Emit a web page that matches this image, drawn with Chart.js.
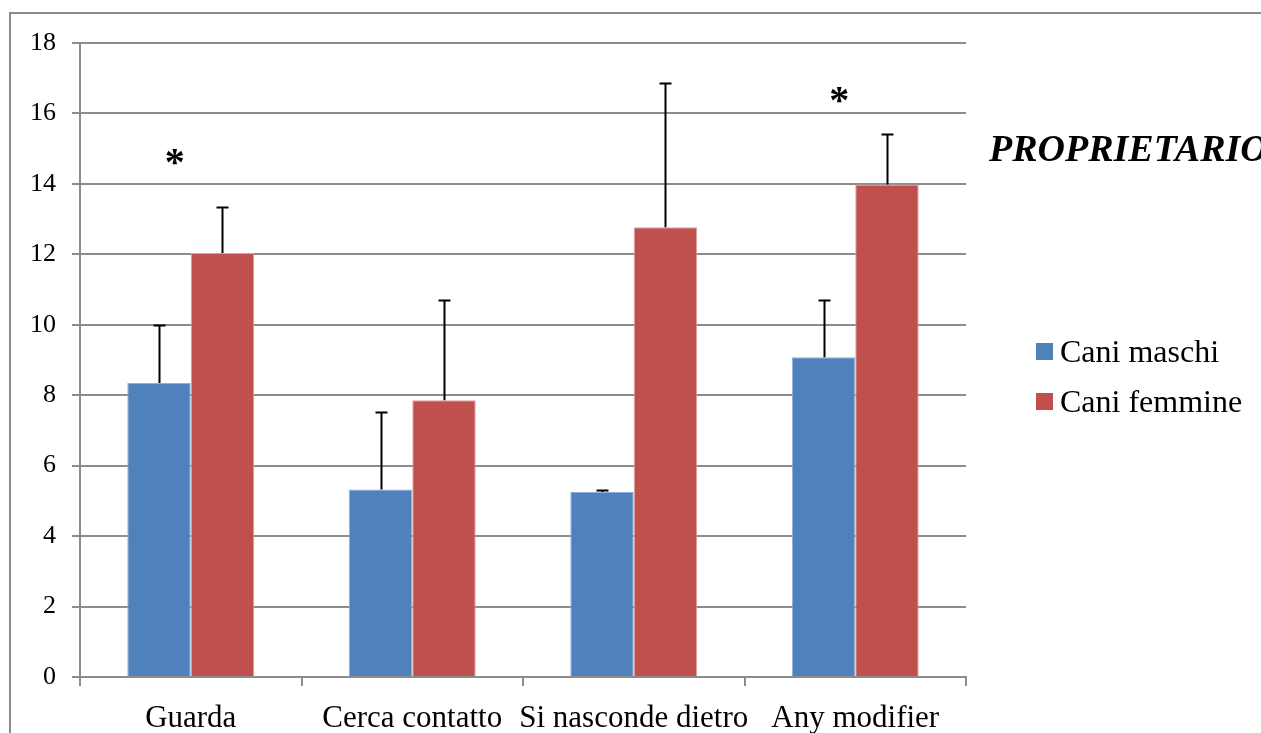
<!DOCTYPE html>
<html>
<head>
<meta charset="utf-8">
<script src="https://cdn.jsdelivr.net/npm/chart.js@4.4.1/dist/chart.umd.min.js"></script>
<style>
  html, body { margin: 0; padding: 0; background: #fff; overflow: hidden; }
  #wrap { position: absolute; left: 0; top: 0; width: 1261px; height: 733px; }
</style>
</head>
<body>
<div id="wrap"><canvas id="chart" width="1261" height="733"></canvas></div>
<script>
// categories and values
const categories = ['Guarda', 'Cerca contatto', 'Si nasconde dietro', 'Any modifier'];
const maschi = [8.35, 5.32, 5.25, 9.08];
const maschiErr = [1.63, 2.21, 0.07, 1.62];
const femmine = [12.04, 7.86, 12.77, 13.98];
const femmineErr = [1.30, 2.84, 4.10, 1.44];
const seriesNames = ['Cani maschi', 'Cani femmine'];
const seriesColors = ['#4F81BD', '#C0504D'];
// significance marks: label and the value they sit at
const stars = ['*', '', '', '*'];
const starValues = [14.85, null, null, 16.6];
const chartTitle = 'PROPRIETARIO';

const serif = "'Liberation Serif', 'Times New Roman', serif";
const gridGrey = '#8c8c8c';

// grey frame around the whole chart
const framePlugin = {
  id: 'frame',
  beforeDraw(chart) {
    const ctx = chart.ctx;
    ctx.save();
    ctx.strokeStyle = '#8a8a8a';
    ctx.lineWidth = 2;
    ctx.strokeRect(10, 13, 1400, 900);
    ctx.restore();
  }
};

// plus-only error bars, stars, title and legend
const extrasPlugin = {
  id: 'extras',
  afterDatasetsDraw(chart) {
    const ctx = chart.ctx;
    const y = chart.scales.y;
    const x = chart.scales.x;
    ctx.save();
    ctx.strokeStyle = '#000';
    ctx.lineWidth = 2;
    [maschiErr, femmineErr].forEach((errs, di) => {
      const meta = chart.getDatasetMeta(di);
      meta.data.forEach((bar, i) => {
        const v = chart.data.datasets[di].data[i];
        const yTop = Math.round(y.getPixelForValue(v + errs[i])) + 0.5;
        const yBar = y.getPixelForValue(v);
        const cx = Math.round(bar.x) + 0.5;
        ctx.beginPath();
        ctx.moveTo(cx, yBar);
        ctx.lineTo(cx, yTop);
        ctx.moveTo(cx - 6, yTop);
        ctx.lineTo(cx + 6, yTop);
        ctx.stroke();
      });
    });

    ctx.fillStyle = '#000';
    ctx.font = 'bold 40px ' + serif;
    ctx.textAlign = 'center';
    ctx.textBaseline = 'alphabetic';
    stars.forEach((s, i) => {
      if (!s) return;
      const px = x.getPixelForValue(i) - 16;
      const py = y.getPixelForValue(starValues[i]);
      ctx.fillText(s, px, py + 21);
    });

    ctx.textAlign = 'left';
    ctx.font = 'italic bold 38px ' + serif;
    ctx.fillText(chartTitle, 989, 161);

    ctx.font = '32px ' + serif;
    seriesNames.forEach((name, i) => {
      const base = 362 + i * 50;
      ctx.fillStyle = seriesColors[i];
      ctx.fillRect(1036, base - 19, 17, 17);
      ctx.fillStyle = '#000';
      ctx.fillText(name, 1060, base);
    });
    ctx.restore();
  }
};

new Chart(document.getElementById('chart').getContext('2d'), {
  type: 'bar',
  data: {
    labels: categories,
    datasets: [
      { label: seriesNames[0], data: maschi, backgroundColor: seriesColors[0],
        borderColor: '#8fb0d8', borderWidth: 1, categoryPercentage: 0.573, barPercentage: 1 },
      { label: seriesNames[1], data: femmine, backgroundColor: seriesColors[1],
        borderColor: '#dba09f', borderWidth: 1, categoryPercentage: 0.573, barPercentage: 1 }
    ]
  },
  options: {
    responsive: false,
    animation: false,
    layout: { padding: { left: 0, top: 43, right: 295, bottom: 0 } },
    plugins: {
      legend: { display: false },
      tooltip: { enabled: false }
    },
    scales: {
      x: {
        grid: { drawOnChartArea: false, drawTicks: true, tickLength: 9, color: gridGrey, lineWidth: 2 },
        border: { color: gridGrey, width: 2 },
        ticks: { color: '#000', font: { family: serif, size: 31 }, padding: 14, maxRotation: 0, autoSkip: false },
        afterFit(scale) { scale.height = 56; }
      },
      y: {
        min: 0, max: 18,
        ticks: { stepSize: 2, color: '#000', font: { family: serif, size: 26 }, padding: 16 },
        grid: { color: gridGrey, lineWidth: 2, tickLength: 8 },
        border: { color: gridGrey, width: 2 },
        afterFit(scale) { scale.width = 80; }
      }
    }
  },
  plugins: [framePlugin, extrasPlugin]
});
</script>
</body>
</html>
